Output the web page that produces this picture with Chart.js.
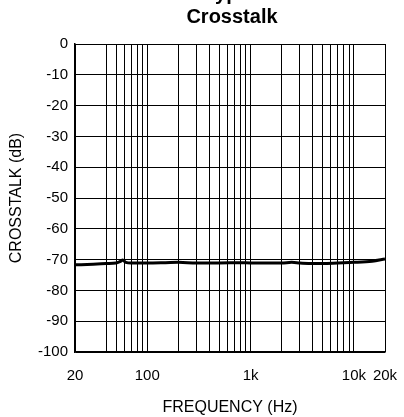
<!DOCTYPE html>
<html>
<head>
<meta charset="utf-8">
<script src="https://cdn.jsdelivr.net/npm/chart.js@4.4.1/dist/chart.umd.min.js"></script>
<style>
html,body{margin:0;padding:0;background:#fff;overflow:hidden;}
#wrap{position:relative;width:404px;height:417px;}
canvas{display:block;}
</style>
</head>
<body>
<div id="wrap"><canvas id="c" width="404" height="417"></canvas></div>
<script>
// Data
const frequencyHz = [20, 30, 40, 50, 55, 58, 62, 70, 100, 150, 200, 300, 500, 800, 1000, 1500, 2000, 2500, 3000, 4000, 5000, 7000, 10000, 15000, 20000];
const crosstalkDb = [-71.7, -71.5, -71.3, -71.1, -70.6, -70.1, -70.9, -71.1, -71.1, -71.0, -70.9, -71.1, -71.1, -71.0, -71.1, -71.1, -71.1, -70.9, -71.1, -71.3, -71.3, -71.1, -70.9, -70.5, -69.8];
const xGridValues = [20, 40, 50, 60, 70, 80, 90, 100, 200, 300, 400, 500, 600, 700, 800, 900, 1000, 2000, 3000, 4000, 5000, 6000, 7000, 8000, 9000, 10000, 20000];
const xTickLabels = {20: '20', 100: '100', 1000: '1k', 10000: '10k', 20000: '20k'};
const yMin = -100, yMax = 0, yStep = 10;
const titleLines = ['Typical', 'Crosstalk'];

const FONT = "'Liberation Sans', Arial, Helvetica, sans-serif";

const titlePlugin = {
  id: 'twoLineTitle',
  afterDraw(chart) {
    const ctx = chart.ctx;
    const ca = chart.chartArea;
    const cx = (ca.left + ca.right) / 2;
    ctx.save();
    ctx.fillStyle = '#000';
    ctx.font = 'bold 20px ' + FONT;
    ctx.textAlign = 'center';
    ctx.textBaseline = 'alphabetic';
    ctx.fillText(titleLines[0], cx + 8, 0);
    ctx.fillText(titleLines[1], cx + 2, 23);
    ctx.restore();
  }
};

new Chart(document.getElementById('c'), {
  type: 'line',
  data: {
    datasets: [{
      data: frequencyHz.map((f, i) => ({x: f, y: crosstalkDb[i]})),
      borderColor: '#000',
      borderWidth: 3,
      pointRadius: 0,
      fill: false,
      cubicInterpolationMode: 'monotone'
    }]
  },
  options: {
    responsive: false,
    animation: false,
    devicePixelRatio: 1,
    layout: {padding: {left: 0, right: 19, top: 44, bottom: 0}},
    plugins: {legend: {display: false}, tooltip: {enabled: false}, title: {display: false}},
    scales: {
      x: {
        type: 'logarithmic',
        min: 20,
        max: 20000,
        afterBuildTicks(scale) { scale.ticks = xGridValues.map(v => ({value: v})); },
        afterFit(scale) { scale.height = 65; scale.paddingLeft = 0; scale.paddingRight = 0; },
        ticks: {
          autoSkip: false,
          maxRotation: 0,
          padding: 15,
          color: '#000',
          font: {family: FONT, size: 15},
          callback(v) { return xTickLabels[v] !== undefined ? xTickLabels[v] : ''; }
        },
        grid: {color: '#000', lineWidth: 1, drawTicks: false},
        border: {color: '#000', width: 1.5},
        title: {display: true, text: 'FREQUENCY (Hz)', color: '#000', font: {family: FONT, size: 16}, padding: {top: 6, bottom: 0}}
      },
      y: {
        min: yMin,
        max: yMax,
        afterFit(scale) { scale.width = 75; scale.paddingTop = 0; scale.paddingBottom = 0; },
        ticks: {
          stepSize: yStep,
          padding: 7,
          color: '#000',
          font: {family: FONT, size: 15}
        },
        grid: {color: '#000', lineWidth: 1, drawTicks: false},
        border: {color: '#000', width: 1.5},
        title: {display: true, text: 'CROSSTALK (dB)', color: '#000', font: {family: FONT, size: 16}, padding: {top: 7, bottom: 0}}
      }
    }
  },
  plugins: [titlePlugin]
});
</script>
</body>
</html>
